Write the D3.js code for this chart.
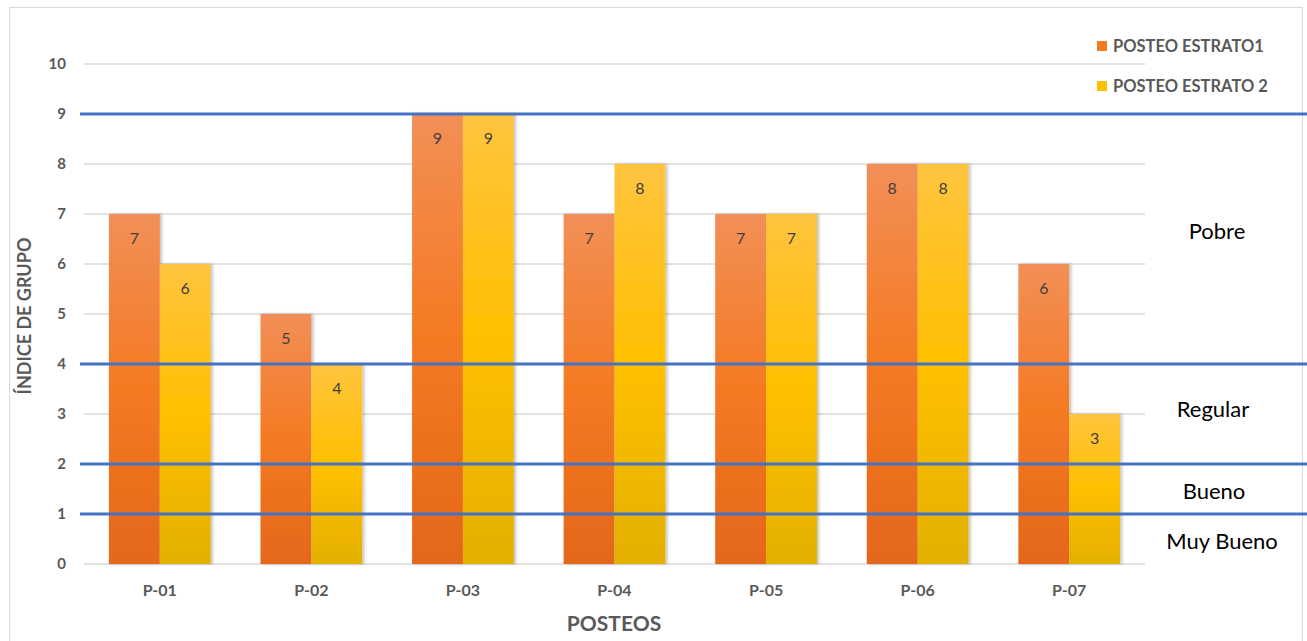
<!DOCTYPE html>
<html>
<head>
<meta charset="utf-8">
<script src="https://cdn.jsdelivr.net/npm/d3@7"></script>
<style>
  html, body { margin: 0; padding: 0; background: #fff; }
  svg { display: block; }
</style>
</head>
<body>
<svg id="chart" width="1307" height="641"></svg>
<script>
// Posting categories and the two strata
const categories = ["P-01", "P-02", "P-03", "P-04", "P-05", "P-06", "P-07"];
const estrato1 = [7, 5, 9, 7, 7, 8, 6];
const estrato2 = [6, 4, 9, 8, 7, 8, 3];
const seriesNames = ["POSTEO ESTRATO1", "POSTEO ESTRATO 2"];
const yTicks = [0, 1, 2, 3, 4, 5, 6, 7, 8, 9, 10];

// Threshold lines separating the rating zones, and the zone labels
const thresholds = [9, 4, 2, 1];
const zoneNames = ["Pobre", "Regular", "Bueno", "Muy Bueno"];
const zoneCenters = [6.65, 3.1, 1.45, 0.45];

const svg = d3.select("#chart");
const W = 1307, H = 641;
const plot = { left: 84, right: 1145, top: 64, bottom: 564 };
const FONT = "Lato, 'Open Sans', sans-serif";
const zoneX = [1217, 1213, 1214, 1222];

// chart frame
svg.append("rect")
  .attr("x", 9.5).attr("y", 7.5).attr("width", 1293).attr("height", 660)
  .attr("fill", "#fff").attr("stroke", "#d9d9d9").attr("stroke-width", 1);

const x = d3.scaleBand().domain(categories).range([plot.left, plot.right]).paddingInner(0).paddingOuter(0);
const xs = d3.scaleBand().domain([0, 1]).range([0, x.bandwidth()]).paddingOuter(0.49).paddingInner(0);
const y = d3.scaleLinear().domain([0, 10]).range([plot.bottom, plot.top]);

const defs = svg.append("defs");
function grad(id, stops) {
  const g = defs.append("linearGradient").attr("id", id)
    .attr("x1", 0).attr("y1", 0).attr("x2", 0).attr("y2", 1);
  stops.forEach(([o, c]) => g.append("stop").attr("offset", o).attr("stop-color", c));
}
grad("g-orange", [[0, "#F28F57"], [0.5, "#F47A22"], [1, "#E4671A"]]);
grad("g-yellow", [[0, "#FFC43F"], [0.5, "#FFC000"], [1, "#E3B000"]]);
const fills = ["url(#g-orange)", "url(#g-yellow)"];
const legendFills = ["#F47A22", "#FFC000"];

const shadow = defs.append("filter").attr("id", "shadow")
  .attr("x", "-20%").attr("y", "-5%").attr("width", "140%").attr("height", "110%");
shadow.append("feDropShadow").attr("dx", 2).attr("dy", 0).attr("stdDeviation", 1.5)
  .attr("flood-color", "#000").attr("flood-opacity", 0.25);

// horizontal gridlines
svg.append("g").selectAll("line").data(yTicks).join("line")
  .attr("x1", plot.left).attr("x2", plot.right)
  .attr("y1", d => y(d)).attr("y2", d => y(d))
  .attr("stroke", "#d9d9d9").attr("stroke-width", 1.5);

// y tick labels
svg.append("g").selectAll("text").data(yTicks).join("text")
  .attr("x", 66).attr("y", d => y(d)).attr("dy", "0.36em")
  .attr("text-anchor", "end")
  .attr("font-family", FONT).attr("font-weight", "bold")
  .attr("font-size", 15).attr("fill", "#595959")
  .text(d => d);

// bars
const series = [estrato1, estrato2];
const groups = svg.append("g").selectAll("g").data(categories).join("g")
  .attr("transform", d => `translate(${x(d)},0)`);
series.forEach((vals, s) => {
  groups.append("rect")
    .attr("x", xs(s)).attr("width", xs.bandwidth())
    .attr("y", (d, i) => y(vals[i]))
    .attr("height", (d, i) => y(0) - y(vals[i]))
    .attr("fill", fills[s])
    .attr("filter", "url(#shadow)");
});
series.forEach((vals, s) => {
  groups.append("text")
    .attr("x", xs(s) + xs.bandwidth() / 2)
    .attr("y", (d, i) => y(vals[i]) + 24)
    .attr("dy", "0.36em")
    .attr("text-anchor", "middle")
    .attr("font-family", FONT)
    .attr("font-size", 16).attr("fill", "#404040")
    .text((d, i) => vals[i]);
});

// x tick labels
svg.append("g").selectAll("text").data(categories).join("text")
  .attr("x", d => x(d) + x.bandwidth() / 2).attr("y", 590).attr("dy", "0.36em")
  .attr("text-anchor", "middle")
  .attr("font-family", FONT).attr("font-weight", "bold")
  .attr("font-size", 16).attr("fill", "#595959")
  .text(d => d);

// threshold lines
svg.append("g").selectAll("line").data(thresholds).join("line")
  .attr("x1", 80).attr("x2", W)
  .attr("y1", d => y(d)).attr("y2", d => y(d))
  .attr("stroke", "#4472C4").attr("stroke-width", 3);

// zone labels
svg.append("g").selectAll("text").data(zoneNames).join("text")
  .attr("x", (d, i) => zoneX[i]).attr("y", (d, i) => y(zoneCenters[i])).attr("dy", "0.36em")
  .attr("text-anchor", "middle")
  .attr("font-family", FONT)
  .attr("font-size", 22).attr("fill", "#000")
  .text(d => d);

// axis titles
svg.append("text")
  .attr("transform", `translate(25,${(plot.top + plot.bottom) / 2 + 2}) rotate(-90)`)
  .attr("text-anchor", "middle").attr("dy", "0.36em")
  .attr("font-family", FONT).attr("font-weight", "bold")
  .attr("font-size", 18).attr("fill", "#595959")
  .text("ÍNDICE DE GRUPO");
svg.append("text")
  .attr("x", 614).attr("y", 623).attr("dy", "0.36em")
  .attr("text-anchor", "middle")
  .attr("font-family", FONT).attr("font-weight", "bold")
  .attr("font-size", 21).attr("fill", "#595959")
  .text("POSTEOS");

// legend
const legend = svg.append("g").selectAll("g").data(seriesNames).join("g")
  .attr("transform", (d, i) => `translate(1097,${46 + i * 40})`);
legend.append("rect").attr("x", 0).attr("y", -5).attr("width", 10).attr("height", 10)
  .attr("fill", (d, i) => legendFills[i]);
legend.append("text").attr("x", 16).attr("dy", "0.36em")
  .attr("font-family", FONT).attr("font-weight", "bold")
  .attr("font-size", 16.5).attr("fill", "#595959")
  .text(d => d);
</script>
</body>
</html>
